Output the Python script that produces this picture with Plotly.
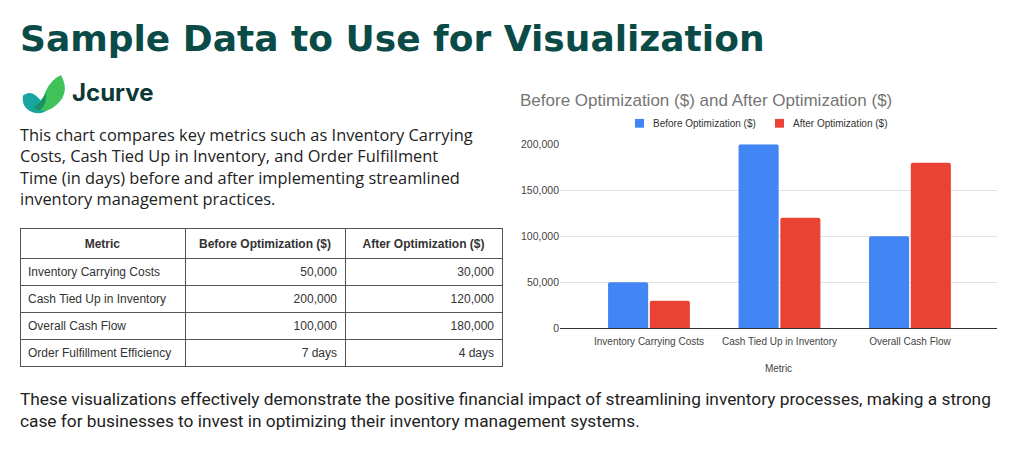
import plotly.graph_objects as go

# ---------------- data ----------------
metrics = ["Inventory Carrying Costs", "Cash Tied Up in Inventory", "Overall Cash Flow"]
before_opt = [50000, 200000, 100000]
after_opt = [30000, 120000, 180000]
days_metric = "Order Fulfillment Efficiency"
days_before = 7
days_after = 4
y_ticks = [0, 50000, 100000, 150000, 200000]
series_names = ["Before Optimization ($)", "After Optimization ($)"]
table_headers = ["Metric", "Before Optimization ($)", "After Optimization ($)"]

title_text = "Sample Data to Use for Visualization"
intro_lines = [
    "This chart compares key metrics such as Inventory Carrying",
    "Costs, Cash Tied Up in Inventory, and Order Fulfillment",
    "Time (in days) before and after implementing streamlined",
    "inventory management practices.",
]
outro_lines = [
    "These visualizations effectively demonstrate the positive financial impact of streamlining inventory processes, making a strong",
    "case for businesses to invest in optimizing their inventory management systems.",
]

W, H = 1024, 453
def px(x):
    return x / W
def py(y):
    return 1 - y / H

BLUE = "#4285F4"
RED = "#EA4335"
TEAL = "#0b4b47"
ARIAL = "Liberation Sans, Arial"

fig = go.Figure()

fig.add_trace(go.Bar(x=metrics, y=before_opt, name=series_names[0], showlegend=False,
                     marker=dict(color=BLUE, cornerradius=2, line=dict(width=0))))
fig.add_trace(go.Bar(x=metrics, y=after_opt, name=series_names[1], showlegend=False,
                     marker=dict(color=RED, cornerradius=2, line=dict(width=0))))

# table
col_metric = metrics + [days_metric]
col_before = [f"{v:,}" for v in before_opt] + [f"{days_before} days"]
col_after = [f"{v:,}" for v in after_opt] + [f"{days_after} days"]
fig.add_trace(go.Table(
    domain=dict(x=[px(20), px(502)], y=[py(385), py(229)]),
    columnwidth=[165, 160, 157],
    header=dict(values=[f"<b>{h}</b>" for h in table_headers],
                align="center", height=30, fill_color="white",
                line=dict(color="#555555", width=1),
                font=dict(family=ARIAL, size=12, color="#333333")),
    cells=dict(values=[col_metric, col_before, col_after],
               align=["left", "right", "right"], height=27, fill_color="white",
               line=dict(color="#555555", width=1),
               font=dict(family=ARIAL, size=12, color="#333333")),
))

annotations = []
annotations.append(dict(text=f"<b>{title_text}</b>", x=px(18), y=py(33), xref="paper", yref="paper",
                        xanchor="left", yanchor="middle", showarrow=False,
                        font=dict(family="DejaVu Sans", size=36, color=TEAL)))
annotations.append(dict(text="<b>Jcurve</b>", x=px(70), y=py(89), xref="paper", yref="paper",
                        xanchor="left", yanchor="middle", showarrow=False,
                        font=dict(family="Inter", size=24, color="#0d3836")))
annotations.append(dict(text="<br>".join(intro_lines), x=px(18), y=py(118), xref="paper", yref="paper",
                        xanchor="left", yanchor="top", align="left", showarrow=False,
                        font=dict(family="Open Sans", size=16.4, color="#222222")))
annotations.append(dict(text="<br>".join(outro_lines), x=px(18), y=py(391), xref="paper", yref="paper",
                        xanchor="left", yanchor="top", align="left", showarrow=False,
                        font=dict(family="Roboto", size=17.3, color="#222222")))
annotations.append(dict(text="Before Optimization ($) and After Optimization ($)", x=px(518), y=py(97),
                        xref="paper", yref="paper", xanchor="left", yanchor="middle", showarrow=False,
                        font=dict(family=ARIAL, size=17, color="#757575")))

# manual legend
legend_items = [(635, series_names[0], BLUE), (775, series_names[1], RED)]
shapes = []
for x0, name, col in legend_items:
    shapes.append(dict(type="rect", xref="paper", yref="paper", line=dict(width=0), fillcolor=col,
                       x0=px(x0), x1=px(x0 + 9), y0=py(125), y1=py(116)))
    annotations.append(dict(text=name, x=px(x0 + 16), y=py(120.5), xref="paper", yref="paper",
                            xanchor="left", yanchor="middle", showarrow=False,
                            font=dict(family=ARIAL, size=10, color="#333333")))

def qpath(cmds):
    out = []
    for c in cmds:
        if c[0] == "M":
            out.append(f"M {px(c[1]):.5f},{py(c[2]):.5f}")
        elif c[0] == "Q":
            out.append(f"Q {px(c[1]):.5f},{py(c[2]):.5f} {px(c[3]):.5f},{py(c[4]):.5f}")
        elif c[0] == "L":
            out.append(f"L {px(c[1]):.5f},{py(c[2]):.5f}")
    return " ".join(out) + " Z"

shapes += [
    dict(type="path", xref="paper", yref="paper", line=dict(width=0), fillcolor="#17a5a0",
         path=qpath([("M", 23, 92), ("Q", 30, 86, 38, 94), ("Q", 44, 101, 51, 104),
                     ("Q", 42, 113, 32, 109), ("Q", 21, 104, 23, 92)])),
    dict(type="path", xref="paper", yref="paper", line=dict(width=0), fillcolor="#3fc25a",
         path=qpath([("M", 61, 71), ("Q", 72, 92, 52, 105), ("Q", 42, 111, 34, 103),
                     ("Q", 42, 98, 46, 87), ("Q", 51, 76, 61, 71)])),
    dict(type="path", xref="paper", yref="paper", line=dict(width=0), fillcolor="#1c8f6a",
         path=qpath([("M", 34, 103), ("Q", 42, 99, 46, 89), ("Q", 47, 101, 40, 107),
                     ("Q", 36, 107, 34, 103)])),
]

fig.update_layout(
    width=W, height=H, margin=dict(l=0, r=0, t=0, b=0),
    paper_bgcolor="white", plot_bgcolor="white",
    barmode="group", bargap=0.36, bargroupgap=0.04,
    showlegend=False,
    xaxis=dict(domain=[px(560), px(997)], range=[-0.682, 2.667], type="category",
               showline=True, linecolor="#333333", linewidth=1, showgrid=False,
               ticks="", ticklabelstandoff=4,
               tickfont=dict(family=ARIAL, size=10, color="#444444"),
               title=dict(text="Metric", font=dict(family=ARIAL, size=10, color="#444444"),
                          standoff=18)),
    yaxis=dict(domain=[py(331), py(142)], range=[0, 200000], tickvals=y_ticks,
               tickformat=",", showgrid=True, gridcolor="#e3e3e3", gridwidth=1,
               zeroline=False, showline=False, ticks="",
               tickfont=dict(family=ARIAL, size=10.5, color="#444444")),
    annotations=annotations,
    shapes=shapes,
)

fig.write_html("out.html")
